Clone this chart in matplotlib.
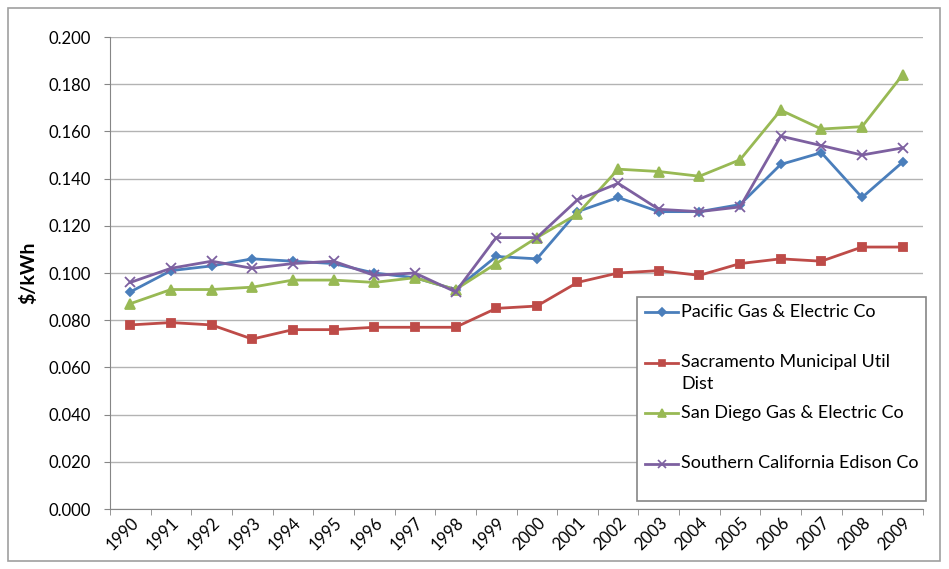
import matplotlib.pyplot as plt
import matplotlib.transforms as mtransforms
import numpy as np
from matplotlib.lines import Line2D
from matplotlib.patches import Rectangle

plt.rcParams['font.family'] = ['Lato', 'DejaVu Sans']

years = [str(y) for y in range(1990, 2010)]

pge = [0.092, 0.101, 0.103, 0.106, 0.105, 0.104, 0.100, 0.098, 0.093, 0.107,
       0.106, 0.126, 0.132, 0.126, 0.126, 0.129, 0.146, 0.151, 0.132, 0.147]
smud = [0.078, 0.079, 0.078, 0.072, 0.076, 0.076, 0.077, 0.077, 0.077, 0.085,
        0.086, 0.096, 0.100, 0.101, 0.099, 0.104, 0.106, 0.105, 0.111, 0.111]
sdge = [0.087, 0.093, 0.093, 0.094, 0.097, 0.097, 0.096, 0.098, 0.093, 0.104,
        0.115, 0.125, 0.144, 0.143, 0.141, 0.148, 0.169, 0.161, 0.162, 0.184]
sce = [0.096, 0.102, 0.105, 0.102, 0.104, 0.105, 0.099, 0.100, 0.092, 0.115,
       0.115, 0.131, 0.138, 0.127, 0.126, 0.128, 0.158, 0.154, 0.150, 0.153]

series = [
    ('Pacific Gas & Electric Co', pge, '#4A7EBB', 'D', 4.5),
    ('Sacramento Municipal Util\nDist', smud, '#BE4B48', 's', 6),
    ('San Diego Gas & Electric Co', sdge, '#98B954', '^', 6.5),
    ('Southern California Edison Co', sce, '#7D60A0', 'x', 6.5),
]

W, H = 949, 569
fig = plt.figure(figsize=(W / 100, H / 100), dpi=100)
ax = fig.add_axes([110 / W, 60 / H, 813 / W, 472 / H])

x = np.arange(len(years))
for name, vals, col, mk, ms in series:
    ax.plot(x, vals, color=col, lw=2, marker=mk, markersize=ms,
            markeredgewidth=1.3, label=name)

ax.set_xlim(-0.5, len(years) - 0.5)
ax.set_ylim(0, 0.2)
yt = np.arange(0, 0.201, 0.02)
ax.set_yticks(yt)
ax.set_yticklabels([f'{v:.3f}' for v in yt], fontsize=12)
ax.set_xticks(x)
ax.set_xticklabels(years, rotation=45, ha='right', va='top',
                   rotation_mode='anchor', fontsize=12)
shift = mtransforms.ScaledTranslation(5 / 100, 0, fig.dpi_scale_trans)
for lab in ax.get_xticklabels():
    lab.set_transform(lab.get_transform() + shift)
ax.set_xticks(np.arange(-0.5, len(years)), minor=True)
ax.tick_params(axis='x', which='major', length=0, pad=4)
ax.tick_params(axis='x', which='minor', length=4.5, color='#868686', direction='out')
ax.tick_params(axis='y', length=4.5, color='#868686', direction='out', pad=9)
ax.grid(axis='y', color='#B3B3B3', lw=1)
ax.set_axisbelow(True)
for s in ['top', 'right']:
    ax.spines[s].set_visible(False)
for s in ['left', 'bottom']:
    ax.spines[s].set_color('#868686')
ax.set_ylabel('\\$/kWh', fontsize=14, fontweight='bold')
ax.yaxis.set_label_coords((37 - 110) / 813, 0.5)

# legend drawn Excel-style: fixed row pitch, handle level with first text line
fig.patches.append(Rectangle((637 / W, 1 - 501 / H), 289 / W, 204 / H,
                             transform=fig.transFigure, facecolor='white',
                             edgecolor='#868686', lw=1.2, zorder=5))
for i, (name, vals, col, mk, ms) in enumerate(series):
    yrow = 1 - (312 + 50.5 * i) / H
    fig.add_artist(Line2D([645 / W, 678 / W], [yrow, yrow], color=col, lw=2,
                          transform=fig.transFigure, zorder=6))
    fig.add_artist(Line2D([661.5 / W], [yrow], color=col, marker=mk,
                          markersize=ms * 0.8, markeredgewidth=1.2,
                          transform=fig.transFigure, zorder=6))
    fig.text(681 / W, yrow + 8 / H, name, fontsize=13, va='top', ha='left',
             linespacing=1.45, zorder=6)

fig.patches.append(Rectangle((8 / W, 8 / H), 932 / W, 553 / H,
                             transform=fig.transFigure, fill=False,
                             edgecolor='#A0A0A0', lw=1.2))

fig.savefig('out.png', dpi=100)
